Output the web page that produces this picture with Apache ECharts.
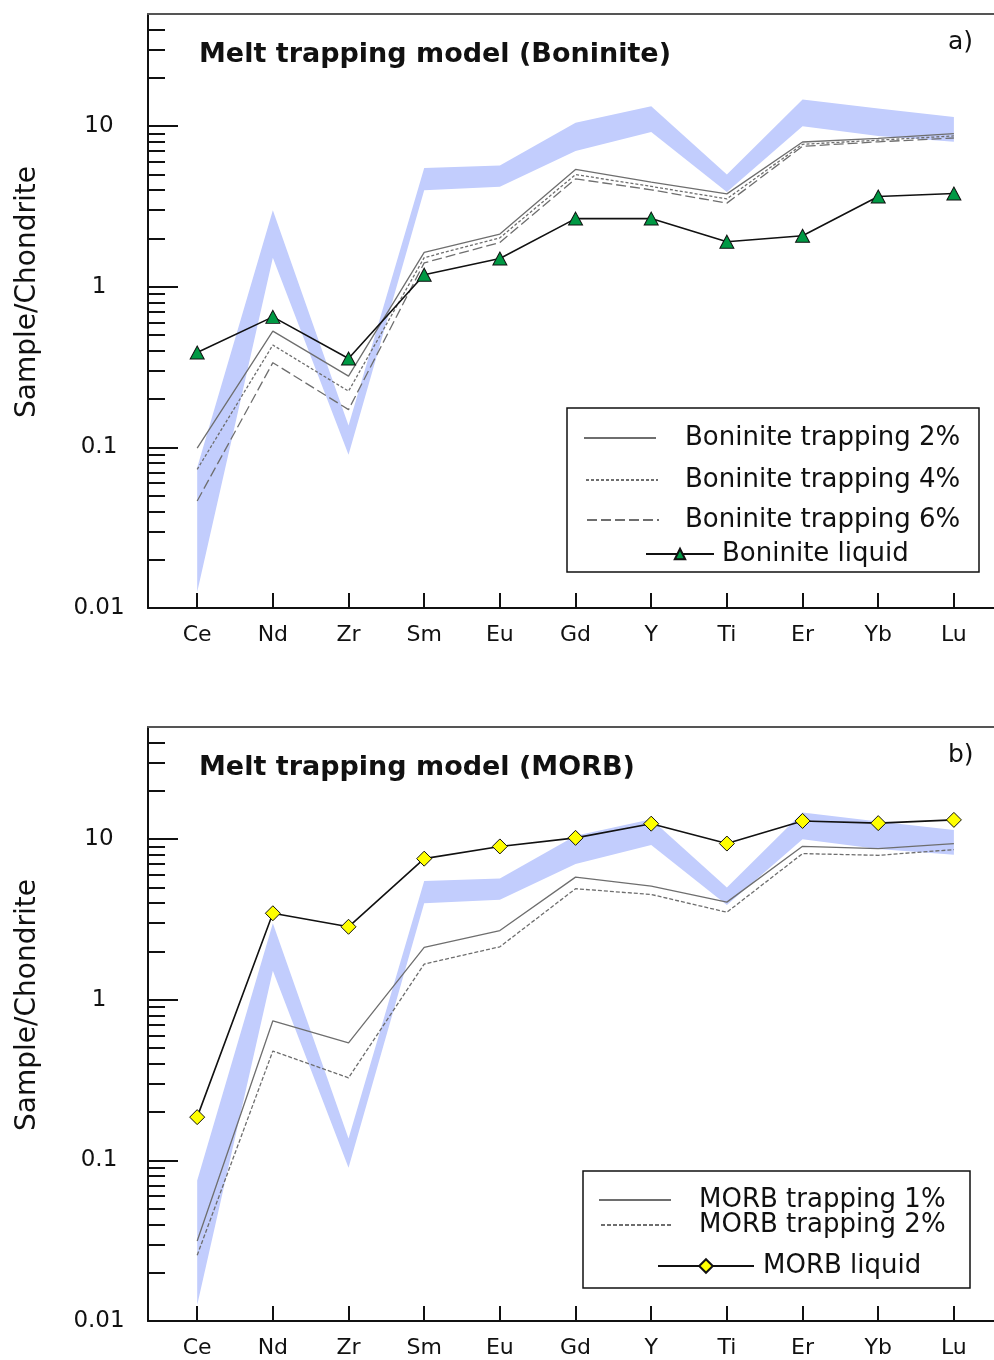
<!DOCTYPE html>
<html>
<head>
<meta charset="utf-8">
<style>
  html, body { margin: 0; padding: 0; background: #ffffff; }
  #chart { width: 994px; height: 1360px; }
</style>
<script src="https://cdn.jsdelivr.net/npm/echarts@6/dist/echarts.min.js"></script>
</head>
<body>
<div id="chart"></div>
<script>
// Elements on the x axis, in plotting order
const ELEMENTS = ['Ce', 'Nd', 'Zr', 'Sm', 'Eu', 'Gd', 'Y', 'Ti', 'Er', 'Yb', 'Lu'];

// Y axis tick values (chondrite-normalised, log scale)
const Y_MAJOR = [0.01, 0.1, 1, 10];
const Y_MINOR = [0.02, 0.03, 0.04, 0.05, 0.06, 0.07, 0.08, 0.09,
                 0.2, 0.3, 0.4, 0.5, 0.6, 0.7, 0.8, 0.9,
                 2, 3, 4, 5, 6, 7, 8, 9,
                 20, 30, 40];

// Observed sample range (shaded band), upper and lower edges
const SAMPLE_HIGH = [0.075, 3.0, 0.137, 5.5, 5.7, 10.5, 13.3, 5.0, 14.7, 12.9, 11.4];
const SAMPLE_LOW  = [0.0126, 1.52, 0.09, 4.0, 4.2, 7.0, 9.2, 3.9, 10.0, 8.7, 8.0];

// Panel a) Boninite
const BON_TRAP_2 = [0.099, 0.53, 0.278, 1.64, 2.13, 5.38, 4.49, 3.79, 7.98, 8.4, 9.0];
const BON_TRAP_4 = [0.073, 0.434, 0.224, 1.52, 2.02, 5.0, 4.22, 3.53, 7.72, 8.19, 8.7];
const BON_TRAP_6 = [0.0464, 0.337, 0.172, 1.41, 1.89, 4.7, 4.02, 3.32, 7.5, 8.0, 8.45];
const BON_LIQUID = [0.39, 0.65, 0.358, 1.19, 1.50, 2.66, 2.66, 1.91, 2.08, 3.65, 3.81];

// Panel b) MORB
const MORB_TRAP_1 = [0.0315, 0.74, 0.54, 2.12, 2.70, 5.81, 5.1, 4.06, 9.04, 8.75, 9.4];
const MORB_TRAP_2 = [0.0257, 0.48, 0.327, 1.67, 2.14, 4.92, 4.53, 3.51, 8.14, 7.94, 8.62];
const MORB_LIQUID = [0.186, 3.46, 2.85, 7.57, 9.02, 10.2, 12.5, 9.4, 13.0, 12.6, 13.2];

const FONT = 'DejaVu Sans';
const BAND_COLOR = '#c2cdfd';
const TRAP_COLOR = '#6e6e6e';
const X_MIN = -0.65, X_MAX = 10.53;
const Y_MIN = 0.01, Y_MAX = 50;
const IDX = ELEMENTS.map((_, i) => i);

const pairs = arr => arr.map((v, i) => [i, v]);

const grids = [
  { left: 148, top: 14, width: 846, height: 594 },
  { left: 148, top: 727, width: 846, height: 594 }
];

function xAxes(g) {
  return [
    {
      type: 'value', gridIndex: g, min: X_MIN, max: X_MAX, position: 'bottom',
      splitLine: { show: false },
      axisLine: { show: true, onZero: false, lineStyle: { color: '#111', width: 2 } },
      axisTick: { show: true, inside: true, length: 15, customValues: IDX,
                  lineStyle: { color: '#111', width: 2 } },
      axisLabel: { show: true, customValues: IDX, margin: 16, color: '#111',
                   fontFamily: FONT, fontSize: 22,
                   formatter: v => ELEMENTS[Math.round(v)] }
    },
    {
      type: 'value', gridIndex: g, min: X_MIN, max: X_MAX, position: 'top',
      splitLine: { show: false },
      axisLine: { show: true, onZero: false, lineStyle: { color: '#555', width: 2 } },
      axisTick: { show: false }, axisLabel: { show: false }
    }
  ];
}

function yAxes(g) {
  return [
    {
      type: 'log', logBase: 10, gridIndex: g, min: Y_MIN, max: Y_MAX, position: 'left',
      name: 'Sample/Chondrite', nameLocation: 'middle', nameGap: 106,
      nameTextStyle: { fontFamily: FONT, fontSize: 28, color: '#111', padding: [0, 0, 0, 38] },
      splitLine: { show: false },
      axisLine: { show: true, onZero: false, lineStyle: { color: '#111', width: 2 } },
      axisTick: { show: true, inside: true, length: 30, customValues: Y_MAJOR,
                  lineStyle: { color: '#111', width: 2 } },
      axisLabel: { show: true, customValues: Y_MAJOR, align: 'center', margin: 49,
                   color: '#111', fontFamily: FONT, fontSize: 23,
                   formatter: v => String(v) }
    },
    {
      type: 'log', logBase: 10, gridIndex: g, min: Y_MIN, max: Y_MAX, position: 'left',
      splitLine: { show: false },
      axisLine: { show: false, onZero: false },
      axisTick: { show: true, inside: true, length: 17, customValues: Y_MINOR,
                  lineStyle: { color: '#111', width: 2 } },
      axisLabel: { show: false }
    }
  ];
}

function bandSeries(g) {
  return {
    type: 'custom', name: 'sample range ' + g, xAxisIndex: 2 * g, yAxisIndex: 2 * g,
    z: 1, silent: true, data: [[0, SAMPLE_LOW[0]]],
    renderItem: (params, api) => {
      const up = SAMPLE_HIGH.map((v, i) => api.coord([i, v]));
      const lo = SAMPLE_LOW.map((v, i) => api.coord([i, v])).reverse();
      return { type: 'polygon', shape: { points: up.concat(lo) },
               style: { fill: BAND_COLOR } };
    }
  };
}

function trapSeries(name, data, g, dash) {
  return {
    type: 'line', name, xAxisIndex: 2 * g, yAxisIndex: 2 * g, z: 3,
    data: pairs(data), symbol: 'none', silent: true,
    itemStyle: { color: 'rgba(0,0,0,0)' },
    lineStyle: { color: TRAP_COLOR, width: 1.3, type: dash }
  };
}

function liquidSeries(name, data, g, symbol, size, fill) {
  return {
    type: 'line', name, xAxisIndex: 2 * g, yAxisIndex: 2 * g, z: 5,
    data: pairs(data), symbol, symbolSize: size, silent: true,
    lineStyle: { color: '#111', width: 1.6 },
    itemStyle: { color: fill, borderColor: '#111', borderWidth: 1 }
  };
}

function legendEntry(name, left, top, itemWidth, itemHeight, padLeft, padTop) {
  return {
    data: [name], left, top, orient: 'horizontal', padding: 0, z: 20,
    itemWidth, itemHeight, selectedMode: false,
    textStyle: { fontFamily: FONT, fontSize: 26, color: '#111',
                 padding: padTop >= 0 ? [padTop, 0, 0, padLeft] : [0, 0, -padTop, padLeft] }
  };
}

const option = {
  backgroundColor: '#ffffff',
  animation: false,
  grid: grids,
  xAxis: [...xAxes(0), ...xAxes(1)],
  yAxis: [...yAxes(0), ...yAxes(1)],
  title: [
    { text: 'Melt trapping model (Boninite)', left: 194, top: 36,
      textStyle: { fontFamily: FONT, fontSize: 27, fontWeight: 'bold', color: '#111' } },
    { text: 'a)', left: 943, top: 25,
      textStyle: { fontFamily: FONT, fontSize: 25, fontWeight: 'normal', color: '#111' } },
    { text: 'Melt trapping model (MORB)', left: 194, top: 749,
      textStyle: { fontFamily: FONT, fontSize: 27, fontWeight: 'bold', color: '#111' } },
    { text: 'b)', left: 943, top: 738,
      textStyle: { fontFamily: FONT, fontSize: 25, fontWeight: 'normal', color: '#111' } }
  ],
  graphic: [
    { type: 'rect', shape: { x: 567, y: 408, width: 412, height: 164 }, z: -1,
      style: { fill: '#ffffff', stroke: '#111', lineWidth: 1.5 } },
    { type: 'rect', shape: { x: 583, y: 1171, width: 387, height: 117 }, z: -1,
      style: { fill: '#ffffff', stroke: '#111', lineWidth: 1.5 } }
  ],
  legend: [
    legendEntry('Boninite trapping 2%', 583, 425, 72, 14, 24, 8),
    legendEntry('Boninite trapping 4%', 585, 467, 72, 14, 22, 6),
    legendEntry('Boninite trapping 6%', 586, 507, 72, 14, 21, -12),
    legendEntry('Boninite liquid', 645, 541, 68, 13, 3, -6),
    legendEntry('MORB trapping 1%', 598, 1187, 72, 14, 23, -12),
    legendEntry('MORB trapping 2%', 600, 1212, 71, 14, 22, 6),
    legendEntry('MORB liquid', 657, 1253, 96, 17, 4, 0)
  ],
  series: [
    bandSeries(0),
    trapSeries('Boninite trapping 2%', BON_TRAP_2, 0, 'solid'),
    trapSeries('Boninite trapping 4%', BON_TRAP_4, 0, [3, 2]),
    trapSeries('Boninite trapping 6%', BON_TRAP_6, 0, [10, 4]),
    liquidSeries('Boninite liquid', BON_LIQUID, 0, 'triangle', [14, 13], '#009944'),
    bandSeries(1),
    trapSeries('MORB trapping 1%', MORB_TRAP_1, 1, 'solid'),
    trapSeries('MORB trapping 2%', MORB_TRAP_2, 1, [4, 2]),
    liquidSeries('MORB liquid', MORB_LIQUID, 1, 'diamond', 15, '#ffff00')
  ]
};

const chart = echarts.init(document.getElementById('chart'), null, { renderer: 'canvas' });
chart.setOption(option);
</script>
</body>
</html>
